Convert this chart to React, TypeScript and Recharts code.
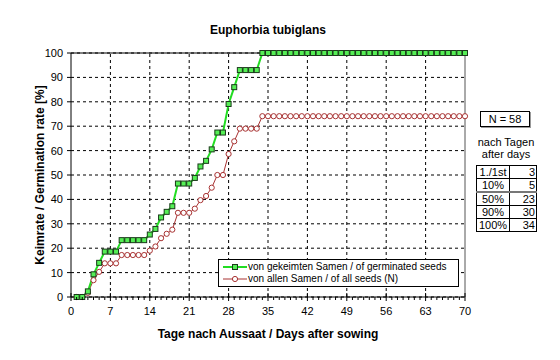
import React from "react";
import {
  LineChart,
  Line,
  XAxis,
  YAxis,
  CartesianGrid,
  ReferenceLine,
  Legend,
} from "recharts";

// Keimrate von gekeimten Samen (Tag 1..70), in %
const germinated = [
  0, 0, 2.3, 9.3, 14.0, 18.6, 18.6, 18.6, 23.3, 23.3,
  23.3, 23.3, 23.3, 25.6, 27.9, 32.6, 34.9, 37.2, 46.5, 46.5,
  46.5, 48.8, 53.5, 55.8, 60.5, 67.4, 67.4, 79.1, 86.0, 93.0,
  93.0, 93.0, 93.0, 100, 100, 100, 100, 100, 100, 100,
  100, 100, 100, 100, 100, 100, 100, 100, 100, 100,
  100, 100, 100, 100, 100, 100, 100, 100, 100, 100,
  100, 100, 100, 100, 100, 100, 100, 100, 100, 100,
];

// Keimrate von allen Samen (N = 58), in %
const allSeeds = [
  0, 0, 1.7, 6.9, 10.3, 13.8, 13.8, 13.8, 17.2, 17.2,
  17.2, 17.2, 17.2, 19.0, 20.7, 24.1, 25.9, 27.6, 34.5, 34.5,
  34.5, 36.2, 39.7, 41.4, 44.8, 50.0, 50.0, 58.6, 63.8, 69.0,
  69.0, 69.0, 69.0, 74.1, 74.1, 74.1, 74.1, 74.1, 74.1, 74.1,
  74.1, 74.1, 74.1, 74.1, 74.1, 74.1, 74.1, 74.1, 74.1, 74.1,
  74.1, 74.1, 74.1, 74.1, 74.1, 74.1, 74.1, 74.1, 74.1, 74.1,
  74.1, 74.1, 74.1, 74.1, 74.1, 74.1, 74.1, 74.1, 74.1, 74.1,
];

const majorDays = [0, 7, 14, 21, 28, 35, 42, 49, 56, 63, 70];
const yTicks = [0, 10, 20, 30, 40, 50, 60, 70, 80, 90, 100];
const dayTicks = Array.from({ length: 71 }, (_, i) => i);

const tableLabels = ["1./1st", "10%", "50%", "90%", "100%"];
const tableDays = [3, 5, 23, 30, 34];
const seedCount = 58;

const data = germinated.map((g, i) => ({
  day: i + 1,
  germinated: g,
  all: allSeeds[i],
}));

const GREEN = "#22dd22";
const RED = "#a83232";
const FONT = "'Liberation Sans', Arial, sans-serif";

const SquareDot = (props: any) => {
  const { cx, cy, index } = props;
  if (cx == null || cy == null) return null;
  return (
    <rect
      key={`sq-${index}`}
      x={cx - 2.5}
      y={cy - 2.5}
      width={5}
      height={5}
      fill="#55ee55"
      stroke="#1a3a1a"
      strokeWidth={1}
    />
  );
};

const CircleDot = (props: any) => {
  const { cx, cy, index } = props;
  if (cx == null || cy == null) return null;
  return (
    <circle
      key={`ci-${index}`}
      cx={cx}
      cy={cy}
      r={2.6}
      fill="#fff"
      stroke={RED}
      strokeWidth={1}
    />
  );
};

const DayTick = (props: any) => {
  const { x, y, payload } = props;
  const axisY = y - 10;
  const major = payload.value % 7 === 0;
  return (
    <g>
      <line
        x1={x}
        x2={x}
        y1={major ? axisY - 4 : axisY}
        y2={major ? axisY + 4 : axisY + 3}
        stroke="#000"
      />
      {major && (
        <text x={x} y={y} dy="0.71em" textAnchor="middle" fontSize={11} fill="#000">
          {payload.value}
        </text>
      )}
    </g>
  );
};

const LegendBox = () => (
  <div
    style={{
      border: "1px solid #000",
      background: "#fff",
      width: 236,
      padding: "1px 0 1px 3px",
      fontSize: 10,
      lineHeight: "12px",
      fontFamily: FONT,
      whiteSpace: "nowrap",
    }}
  >
    <div style={{ display: "flex", alignItems: "center" }}>
      <svg width={26} height={10}>
        <line x1={1} x2={25} y1={5} y2={5} stroke={GREEN} strokeWidth={2} />
        <rect x={10.5} y={2.5} width={5} height={5} fill="#55ee55" stroke="#1a3a1a" />
      </svg>
      <span>von gekeimten Samen / of germinated seeds</span>
    </div>
    <div style={{ display: "flex", alignItems: "center" }}>
      <svg width={26} height={10}>
        <line x1={1} x2={25} y1={5} y2={5} stroke={RED} strokeWidth={1} />
        <circle cx={13} cy={5} r={2.6} fill="#fff" stroke={RED} />
      </svg>
      <span>von allen Samen / of all seeds (N)</span>
    </div>
  </div>
);

export default function App() {
  return (
    <div
      style={{
        position: "absolute",
        left: 0,
        top: 0,
        width: 560,
        height: 360,
        background: "#fff",
        fontFamily: FONT,
      }}
    >
      <div
        style={{
          position: "absolute",
          left: 71,
          width: 394,
          top: 23,
          textAlign: "center",
          fontSize: 12,
          fontWeight: "bold",
          lineHeight: "15px",
        }}
      >
        Euphorbia tubiglans
      </div>

      <LineChart
        width={560}
        height={360}
        data={data}
        margin={{ top: 53, right: 95, left: 0, bottom: 18 }}
      >
        <CartesianGrid vertical={false} stroke="#000" strokeDasharray="3 3" />
        {majorDays.slice(1, -1).map((d) => (
          <ReferenceLine key={d} x={d} stroke="#000" strokeDasharray="3 3" />
        ))}
        <ReferenceLine y={100} stroke="#000" />
        <ReferenceLine x={70} stroke="#555" />
        <XAxis
          type="number"
          dataKey="day"
          domain={[0, 70]}
          ticks={dayTicks}
          interval={0}
          tickLine={false}
          tickSize={0}
          tickMargin={10}
          height={45}
          axisLine={{ stroke: "#000" }}
          tick={<DayTick />}
          label={{
            value: "Tage nach Aussaat / Days after sowing",
            position: "insideBottom",
            offset: 4,
            style: { fontSize: 12, fontWeight: "bold", fill: "#000" },
          }}
        />
        <YAxis
          type="number"
          domain={[0, 100]}
          ticks={yTicks}
          interval={0}
          width={71}
          tickSize={4}
          tickMargin={4}
          axisLine={{ stroke: "#000" }}
          tickLine={{ stroke: "#000" }}
          tick={{ fontSize: 11, fill: "#000" }}
          label={{
            value: "Keimrate / Germination rate [%]",
            angle: -90,
            position: "insideLeft",
            offset: 40,
            style: { textAnchor: "middle", fontSize: 12, fontWeight: "bold", fill: "#000" },
          }}
        />
        <Legend
          layout="horizontal"
          verticalAlign="middle"
          align="center"
          wrapperStyle={{ left: 218, top: 259, width: 240 }}
          content={() => <LegendBox />}
        />
        <Line
          type="linear"
          dataKey="all"
          stroke={RED}
          strokeWidth={1}
          dot={<CircleDot />}
          activeDot={false}
          isAnimationActive={false}
        />
        <Line
          type="linear"
          dataKey="germinated"
          stroke={GREEN}
          strokeWidth={2}
          dot={<SquareDot />}
          activeDot={false}
          isAnimationActive={false}
        />
      </LineChart>

      <div
        style={{
          position: "absolute",
          left: 480,
          top: 111,
          width: 48,
          height: 14,
          border: "1px solid #000",
          boxShadow: "1px 1px 0 #999",
          fontSize: 11,
          lineHeight: "14px",
          textAlign: "center",
        }}
      >
        N = {seedCount}
      </div>
      <div
        style={{
          position: "absolute",
          left: 468,
          width: 76,
          top: 136,
          fontSize: 11,
          lineHeight: "12px",
          textAlign: "center",
        }}
      >
        <div>nach Tagen</div>
        <div>after days</div>
      </div>
      <table
        style={{
          position: "absolute",
          left: 476,
          top: 165,
          width: 61,
          borderCollapse: "collapse",
          fontSize: 11,
          lineHeight: "12px",
        }}
      >
        <tbody>
          {tableLabels.map((lab, i) => (
            <tr key={lab}>
              <td
                style={{
                  border: "1px solid #000",
                  borderBottom: i === 1 ? "2px solid #777" : "1px solid #000",
                  textAlign: "center",
                  padding: 0,
                  width: 32,
                }}
              >
                {lab}
              </td>
              <td
                style={{
                  border: "1px solid #000",
                  borderBottom: i === 1 ? "2px solid #777" : "1px solid #000",
                  textAlign: "right",
                  padding: "0 1px 0 0",
                }}
              >
                {tableDays[i]}
              </td>
            </tr>
          ))}
        </tbody>
      </table>
    </div>
  );
}
